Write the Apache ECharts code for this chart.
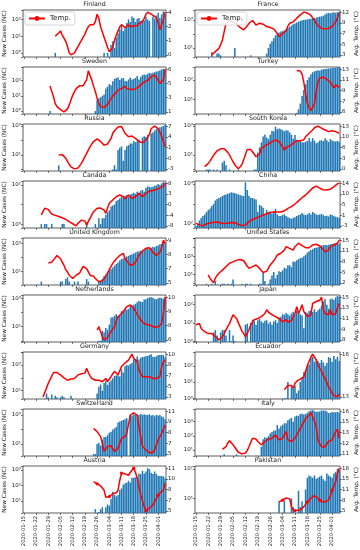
<!DOCTYPE html>
<html><head><meta charset="utf-8">
<script src="https://cdn.jsdelivr.net/npm/echarts@6/dist/echarts.min.js"></script>
<style>html,body{margin:0;padding:0;background:#fff}#c{width:360px;height:550px}</style>
</head><body><div id="c"></div>
<script>
// ---------- categories ----------
const dateTickLabels = ['2020-01-15','2020-01-22','2020-01-29','2020-02-05','2020-02-12','2020-02-19','2020-02-26','2020-03-04','2020-03-11','2020-03-18','2020-03-25','2020-04-01'];
const days = [];
for (let i = 0; i < 82; i++) { const d = new Date(Date.UTC(2020, 0, 15 + i)); days.push(d.toISOString().slice(0, 10)); }

// ---------- new cases: [dayIndex, value] ----------
const finlandCases = [[18,1],[46,1],[48,1],[50,3],[51,5],[52,2],[53,8],[54,15],[55,25],[56,40],[57,20],[58,30],[59,60],[60,100],[61,70],[62,150],[63,120],[64,70],[65,110],[66,120],[67,80],[68,90],[69,90],[70,140],[71,100],[72,80],[74,150],[75,110],[76,170],[77,250],[78,120],[79,200],[80,300],[81,200]];
const franceCases = [[9,5],[12,4],[13,4],[14,3],[22,10],[31,3],[40,4],[41,10],[42,20],[43,30],[44,50],[45,80],[46,100],[47,130],[48,150],[49,160],[50,180],[51,220],[52,280],[53,330],[54,400],[55,500],[56,550],[57,650],[58,750],[59,850],[60,950],[61,1000],[62,1050],[63,1100],[64,1150],[65,1200],[66,1300],[67,1400],[68,1450],[69,1600],[70,1700],[71,1800],[72,2000],[73,2500],[74,3000],[75,3200],[76,3000],[77,3300],[78,3500],[79,3200],[80,3600],[81,3800]];
const swedenCases = [[15,1],[41,1],[42,5],[43,7],[44,8],[45,10],[46,12],[47,30],[48,40],[49,60],[50,50],[51,90],[52,130],[53,150],[54,160],[55,110],[56,140],[57,150],[58,100],[59,90],[60,120],[61,160],[62,120],[63,130],[64,150],[65,200],[66,120],[67,180],[68,230],[69,250],[70,240],[71,280],[72,320],[73,300],[74,330],[75,360],[76,400],[77,420],[78,480],[79,550],[80,600],[81,500]];
const turkeyCases = [[57,2],[58,3],[59,6],[60,15],[61,30],[62,60],[63,100],[64,140],[65,200],[66,250],[67,280],[68,300],[69,320],[70,300],[71,340],[72,360],[73,370],[74,380],[75,390],[76,400],[77,410],[78,420],[79,440],[80,450],[81,460]];
const russiaCases = [[20,2],[51,1],[52,2],[53,1],[54,22],[55,32],[56,40],[57,4],[58,22],[59,40],[60,48],[61,62],[62,62],[63,90],[64,78],[65,90],[66,120],[68,160],[69,200],[70,175],[71,250],[73,300],[74,360],[75,490],[76,640],[77,720],[78,810],[79,900],[80,1000],[81,1200]];
const koreaCases = [[6,1],[7,1],[8,1],[10,1],[12,1],[15,3],[16,4],[17,2],[19,1],[24,1],[33,1],[34,1],[35,15],[36,34],[37,75],[38,190],[39,256],[40,161],[41,130],[42,254],[43,449],[44,427],[45,909],[46,595],[47,686],[48,600],[49,516],[50,438],[51,518],[52,483],[53,367],[54,248],[55,131],[56,242],[57,114],[58,110],[59,107],[60,76],[61,74],[62,84],[63,93],[64,152],[65,87],[66,147],[67,98],[68,64],[69,76],[70,100],[71,104],[72,91],[73,146],[74,105],[75,78],[76,125],[77,101],[78,89],[79,86],[80,94],[81,81]];
const canadaCases = [[10,1],[12,1],[13,1],[16,1],[22,1],[23,1],[36,1],[41,1],[43,2],[44,1],[45,2],[46,2],[47,3],[48,4],[49,5],[50,8],[51,9],[52,10],[53,15],[54,17],[55,20],[56,25],[57,22],[58,28],[59,30],[60,25],[61,32],[62,35],[63,40],[64,35],[65,45],[66,40],[67,50],[68,55],[69,45],[70,70],[71,85],[72,80],[73,75],[74,80],[75,90],[76,95],[77,110],[78,100],[79,120],[80,140],[81,130]];
const chinaCases = [[0,80],[1,100],[2,150],[3,200],[4,250],[5,300],[6,400],[7,500],[8,600],[9,800],[10,1000],[11,1500],[12,1800],[13,2000],[14,2200],[15,2500],[16,2800],[17,3000],[18,3200],[19,3500],[20,3800],[21,3700],[22,3500],[23,3200],[24,3000],[25,2800],[26,2600],[27,2500],[28,12000],[29,5000],[30,2600],[31,2000],[32,2000],[33,1800],[34,1700],[35,400],[36,900],[37,800],[38,650],[39,300],[40,500],[41,400],[42,430],[43,330],[44,430],[45,570],[46,300],[47,250],[48,250],[49,280],[50,300],[51,250],[52,220],[53,200],[54,180],[55,200],[56,220],[57,250],[58,280],[59,300],[60,350],[61,300],[62,280],[63,300],[64,350],[65,300],[66,400],[67,350],[68,300],[69,280],[70,300],[71,320],[72,280],[73,250],[74,260],[75,240],[76,300],[77,280],[78,250],[79,230],[80,220],[81,200]];
const ukCases = [[10,2],[21,2],[22,2],[24,3],[25,4],[26,2],[29,2],[31,2],[36,3],[37,2],[43,2],[44,2],[45,3],[46,5],[47,6],[48,10],[49,12],[50,15],[51,20],[52,26],[53,35],[54,45],[55,60],[56,77],[57,85],[58,100],[59,115],[60,130],[61,150],[62,165],[63,190],[64,225],[65,250],[66,270],[67,300],[68,280],[69,340],[70,390],[71,420],[72,380],[73,480],[74,560],[75,520],[76,650],[77,700],[78,850],[79,900],[80,1000],[81,1100]];
const usCases = [[6,1],[9,1],[11,2],[15,1],[16,1],[18,1],[20,1],[21,3],[26,1],[28,1],[29,1],[31,1],[36,1],[37,1],[38,18],[39,2],[41,1],[42,3],[43,8],[44,20],[45,4],[46,10],[47,25],[48,20],[49,31],[50,60],[51,48],[52,115],[53,110],[54,70],[55,300],[56,280],[57,400],[58,540],[59,700],[60,750],[61,1100],[62,1600],[63,2900],[64,4000],[65,5600],[66,6800],[67,9400],[68,10000],[69,11000],[70,13000],[71,18000],[72,19000],[73,20000],[74,19000],[75,21000],[76,25000],[77,26000],[78,29000],[79,32000],[80,33000],[81,28000]];
const netherlandsCases = [[43,1],[44,1],[45,5],[46,4],[47,8],[48,6],[49,14],[50,44],[51,46],[52,60],[53,77],[54,56],[55,61],[56,121],[57,111],[58,190],[59,155],[60,176],[61,278],[62,292],[63,346],[64,409],[65,534],[66,637],[67,573],[68,545],[69,811],[70,852],[71,1019],[72,1172],[73,1159],[74,1104],[75,884],[76,845],[77,1019],[78,1083],[79,1026],[80,904],[81,1224]];
const japanCases = [[0,1],[10,3],[11,4],[12,2],[14,3],[15,4],[16,4],[17,2],[19,4],[20,1],[21,2],[22,1],[28,8],[29,9],[31,10],[32,15],[33,12],[34,8],[35,14],[36,16],[37,12],[38,10],[39,13],[40,14],[41,9],[42,11],[43,8],[44,12],[45,14],[46,10],[47,20],[48,22],[49,30],[50,28],[51,35],[52,30],[53,25],[54,33],[55,40],[56,30],[57,45],[58,38],[59,30],[60,25],[61,5],[62,40],[63,35],[64,45],[65,50],[66,40],[67,55],[68,40],[69,50],[70,60],[71,90],[72,150],[73,200],[74,100],[75,60],[76,200],[77,220],[78,180],[79,250],[80,300],[81,280]];
const germanyCases = [[13,6],[14,3],[16,5],[18,4],[19,3],[21,3],[22,4],[23,3],[27,4],[42,6],[43,20],[44,30],[45,10],[46,40],[47,60],[48,28],[49,46],[50,61],[51,94],[52,138],[53,153],[54,150],[55,127],[56,447],[57,258],[58,798],[59,1000],[60,900],[61,1200],[62,1400],[63,2800],[64,3000],[65,4500],[66,2700],[67,3700],[68,4100],[69,4400],[70,4900],[71,5000],[72,6000],[73,6800],[74,4400],[75,4100],[76,4900],[77,6100],[78,6100],[79,6200],[80,5900],[81,4000]];
const ecuadorCases = [[50,1],[51,1],[52,10],[54,5],[55,4],[56,6],[57,2],[58,3],[59,10],[60,20],[61,40],[62,50],[63,90],[64,120],[65,300],[66,350],[67,180],[68,250],[69,200],[70,150],[71,230],[72,160],[73,100],[74,150],[75,350],[76,300],[77,180],[78,400],[79,250],[80,350],[81,200]];
const switzerlandCases = [[40,2],[41,2],[42,10],[43,12],[44,8],[45,20],[46,30],[47,30],[48,40],[49,60],[50,70],[51,100],[52,120],[53,150],[54,300],[55,350],[56,400],[57,450],[58,500],[59,600],[61,1000],[62,900],[63,1100],[64,1000],[65,1100],[66,1000],[67,1200],[68,1000],[69,1100],[70,1000],[71,1000],[72,1100],[73,900],[74,1000],[75,800],[76,1000],[77,900],[78,1000],[79,800],[80,700],[81,500]];
const italyCases = [[16,5],[23,5],[37,17],[38,58],[39,78],[40,72],[41,94],[42,147],[43,185],[44,234],[45,239],[46,573],[47,335],[48,466],[49,587],[50,769],[51,778],[52,1247],[53,1492],[54,1797],[55,977],[56,2313],[57,2651],[58,2547],[59,3497],[60,3590],[61,3233],[62,3526],[63,4207],[64,5322],[65,5986],[66,6557],[67,5560],[68,4789],[69,5249],[70,5210],[71,6203],[72,5909],[73,5974],[74,5217],[75,4050],[76,4053],[77,4782],[78,4668],[79,4585],[80,4805],[81,4316]];
const austriaCases = [[41,3],[43,2],[44,3],[45,4],[47,4],[48,6],[49,5],[50,14],[51,40],[52,25],[53,20],[54,25],[55,51],[56,64],[57,115],[58,143],[59,151],[60,205],[61,158],[62,314],[63,314],[64,342],[65,375],[66,600],[67,538],[68,892],[69,605],[70,809],[71,1321],[72,1141],[73,668],[74,564],[75,805],[76,564],[77,418],[78,413],[79,407],[80,400],[81,300]];
const pakistanCases = [[47,8],[50,8],[54,10],[55,5],[58,18],[59,5],[60,8],[62,20],[63,50],[64,60],[65,55],[66,50],[67,60],[68,45],[69,50],[70,55],[71,60],[72,45],[73,40],[74,70],[75,60],[76,55],[77,50],[78,70],[79,80],[80,100],[81,90]];

// ---------- average temperature (first day index, then daily values) ----------
const finlandTempStart = 18;
const finlandTemp = [1.9,1.95,2.2,2.4,2.0,1.7,1.4,0.9,0.3,0.1,0.2,0.3,0.4,0.9,1.2,1.5,1.8,2.1,2.5,2.8,3.0,3.1,3.0,3.3,4.0,3.6,2.8,2.3,1.8,1.3,0.8,0.4,0.3,0.8,1.5,2.0,2.4,2.8,3.0,2.9,2.7,2.8,3.0,2.8,2.7,2.9,3.0,2.9,3.1,3.2,3.3,3.6,4.0,4.2,4.1,4.0,3.9,3.8,3.6,3.2,2.5,2.6,3.5,4.2];
const franceTempStart = 9;
const franceTemp = [3.0,3.3,3.7,4.0,4.4,5.2,6.2,8.0,9.8,10.2,10.5,10.3,10.1,9.8,9.6,9.3,8.9,8.5,8.4,8.7,9.2,9.8,10.2,10.4,9.9,9.4,9.6,9.8,9.8,9.6,9.3,9.1,9.0,8.9,8.7,8.6,8.4,7.6,6.9,7.2,7.6,7.9,8.2,9.2,9.8,10.0,10.1,10.5,10.9,11.2,11.6,12.0,12.2,12.1,12.0,11.9,11.5,11.2,10.4,9.8,9.3,9.0,8.7,8.6,8.6,8.7,8.7,8.9,9.1,9.6,10.1,11.0,12.0];
const swedenTempStart = 15;
const swedenTemp = [4.65,4.8,3.2,2.3,1.9,1.7,1.5,1.3,1.2,1.3,1.6,2.1,2.8,3.4,3.9,4.3,4.5,4.7,4.8,4.7,4.5,5.5,6.7,6.0,5.4,4.6,3.9,3.0,2.3,1.9,1.7,1.8,1.9,2.2,2.6,3.0,3.3,3.5,3.8,4.1,4.2,4.3,4.5,4.6,4.3,4.1,4.2,4.3,4.2,4.1,4.4,4.6,4.8,5.0,5.2,5.3,5.4,5.6,5.9,6.0,6.1,5.8,5.4,5.0,5.0,5.5,6.9];
const turkeyTempStart = 57;
const turkeyTemp = [12.8,13.0,12.7,12.2,10.9,9.0,7.6,6.8,6.4,6.2,7.5,9.5,11.0,11.6,11.8,11.7,11.5,11.4,11.2,10.9,10.6,10.0,10.5,10.2,10.1];
const russiaTempStart = 20;
const russiaTemp = [0.0,0.2,0.1,-0.2,-0.8,-1.6,-2.4,-3.0,-3.3,-3.5,-3.5,-3.3,-3.0,-2.1,-1.3,-0.4,0.4,1.3,2.1,2.8,3.4,3.8,4.1,3.9,3.4,2.9,2.5,2.6,2.8,2.9,4.2,5.5,6.2,6.7,7.1,7.3,7.2,7.0,5.5,5.0,4.6,4.7,4.8,4.5,4.2,3.7,3.4,3.0,3.1,3.4,3.8,4.2,5.2,6.7,7.0,7.3,7.1,6.7,5.8,4.7,3.4,2.1];
const koreaTempStart = 5;
const koreaTemp = [0.9,1.4,1.9,2.6,3.5,4.4,5.1,5.8,6.2,6.4,6.6,6.4,6.0,5.3,4.5,3.4,2.4,1.5,0.9,0.2,0.6,1.5,3.0,4.6,6.2,6.8,6.2,5.5,4.7,3.95,3.5,4.8,6.5,7.0,7.3,7.6,7.9,8.3,8.6,8.9,9.1,8.9,8.6,7.8,7.0,6.0,6.8,7.1,7.3,7.6,8.1,8.6,8.9,9.1,8.9,8.6,9.2,10.1,10.6,11.2,11.7,12.2,12.9,13.2,13.4,13.2,12.8,12.5,12.2,11.9,11.7,11.9,12.0,11.8,11.7,11.3,11.2];
const canadaTempStart = 10;
const canadaTemp = [-4.1,-2.8,-1.6,-1.2,-2.0,-3.0,-3.8,-4.1,-4.3,-4.5,-4.7,-5.0,-5.2,-5.4,-5.8,-6.1,-6.7,-7.3,-7.5,-7.8,-8.3,-7.3,-6.7,-6.1,-6.3,-6.5,-8.0,-6.5,-5.4,-4.0,-2.9,-2.2,-1.6,-2.0,-1.5,-1.0,-2.3,-3.5,-1.5,0.3,1.0,1.6,2.3,2.8,3.2,3.5,3.2,2.8,2.0,1.6,3.5,2.8,2.2,2.5,2.8,3.5,4.1,3.4,2.8,3.5,4.1,4.7,5.0,5.4,5.2,5.1,5.6,6.0,6.2,6.4,6.9,8.0];
const chinaTempStart = 0;
const chinaTemp = [-2.0,-2.4,-2.7,-3.0,-3.1,-2.7,-2.3,-2.0,-1.9,-1.8,-1.6,-1.4,-1.5,-1.8,-1.9,-2.0,-2.1,-2.3,-2.0,-1.8,-1.7,-1.6,-1.8,-2.0,-2.5,-2.8,-3.0,-2.9,-2.7,-2.0,-1.4,-0.9,-0.4,-0.2,0.0,0.4,0.7,1.1,1.4,1.7,1.9,2.1,2.3,2.5,2.6,2.7,2.6,2.5,2.6,2.7,3.1,3.4,4.1,4.5,4.8,5.4,5.9,6.4,7.2,7.8,8.5,9.2,9.6,10.3,11.0,11.7,12.5,13.0,13.3,12.8,12.4,12.0,11.8,11.7,11.7,11.7,12.0,12.4,13.0,13.7,14.2,14.5];
const ukTempStart = 14;
const ukTemp = [7.6,7.65,7.7,7.9,8.1,8.3,8.2,8.0,7.7,7.4,7.0,6.8,6.5,6.35,6.2,6.3,6.5,6.6,6.7,7.0,7.3,7.4,7.1,6.8,6.5,6.45,6.4,6.2,6.05,5.9,5.8,6.0,6.2,6.4,6.7,7.0,7.3,7.6,7.8,8.0,8.15,8.3,8.4,8.5,8.0,7.9,7.6,7.4,7.3,7.5,7.7,8.0,8.3,8.5,8.7,8.8,8.95,9.1,9.0,8.8,8.6,8.5,8.3,8.2,8.6,9.0,9.7,9.4];
const usTempStart = 7;
const usTemp = [4.9,4.0,3.2,2.6,4.0,4.8,5.4,5.9,6.3,6.8,7.3,7.8,8.3,8.5,8.7,9.0,9.2,9.3,9.4,9.2,9.0,8.3,7.5,6.8,7.0,7.3,7.5,7.8,7.3,6.8,6.2,5.6,5.4,6.0,6.8,7.8,8.3,9.0,9.8,10.7,11.0,11.2,11.6,12.1,13.1,12.8,12.6,12.3,12.1,13.1,13.6,14.1,13.6,13.4,13.1,12.8,12.6,12.8,13.1,13.6,14.1,13.8,13.6,13.3,13.1,12.3,11.6,11.9,12.1,13.1,13.4,13.6,13.9,14.1,15.0];
const netherlandsTempStart = 42;
const netherlandsTemp = [7.7,8.0,7.55,7.1,6.8,6.8,7.0,7.3,7.55,7.8,8.0,8.6,8.9,9.07,9.2,9.37,9.6,9.83,9.95,9.98,9.9,9.7,9.4,9.1,8.9,8.6,8.46,8.3,8.16,8.18,8.2,8.1,8.0,7.95,7.9,8.0,8.1,8.3,9.2,10.7];
const japanTempStart = 0;
const japanTemp = [10.6,10.7,10.8,10.0,9.7,9.5,9.3,9.2,9.2,9.2,8.9,8.7,8.9,8.2,8.4,8.7,9.2,9.8,10.3,10.8,11.5,12.2,12.4,11.6,10.9,10.3,9.6,9.2,8.7,8.9,9.8,10.6,11.0,11.4,11.5,11.6,11.8,11.9,12.2,12.4,13.0,12.6,12.4,12.2,12.0,11.9,11.7,11.6,11.3,11.1,11.3,11.4,11.0,10.8,11.3,11.6,12.4,13.5,12.4,13.0,13.8,12.7,12.3,11.9,12.0,12.2,14.0,14.2,14.3,14.3,14.5,15.0,13.0,12.4,12.3,12.2,13.0,12.2,12.3,12.4,13.3,14.0];
const germanyTempStart = 11;
const germanyTemp = [3.5,3.8,5.0,5.8,6.4,7.0,7.6,7.9,7.6,7.4,7.2,7.0,6.7,6.5,6.3,6.4,6.5,6.6,6.6,6.9,7.2,7.3,7.4,7.4,7.5,8.3,7.6,7.0,6.6,6.4,6.3,6.3,6.3,6.2,6.06,6.3,6.6,6.06,6.5,6.9,7.4,7.8,7.5,7.2,7.9,8.6,8.9,9.2,9.5,9.7,10.2,10.7,10.0,9.8,9.4,8.0,7.4,6.9,6.9,6.9,6.9,6.9,6.8,6.6,6.6,6.6,6.8,6.9,8.6,9.4,9.7];
const ecuadorTempStart = 50;
const ecuadorTemp = [13.6,13.7,13.9,14.0,13.9,13.7,14.05,14.2,14.3,14.35,14.4,14.5,14.9,15.3,15.6,15.9,16.1,15.9,15.7,15.3,15.1,14.9,14.6,14.4,14.1,13.8,13.6,13.35,13.2,13.1,13.1,13.3];
const switzerlandTempStart = 40;
const switzerlandTemp = [9.0,8.8,8.6,8.5,8.0,7.2,6.2,6.5,6.8,7.0,6.9,6.5,6.2,6.0,6.6,7.2,7.8,7.9,8.0,8.4,9.5,10.6,10.8,10.9,11.1,10.6,9.2,8.0,6.8,6.6,6.4,6.2,6.0,5.9,6.1,6.4,7.0,7.6,8.0,8.4,8.9,9.4];
const italyTempStart = 15;
const italyTemp = [11.75,11.9,12.07,12.5,12.8,12.9,12.3,12.0,11.7,11.4,11.3,11.2,11.2,11.3,11.6,12.07,12.6,13.1,13.2,13.0,12.7,12.5,12.3,12.5,12.7,12.9,13.0,13.1,13.1,13.2,13.5,13.7,12.9,13.0,13.1,13.5,13.9,12.9,12.8,12.7,12.9,13.1,13.5,13.9,14.3,14.7,15.1,15.5,15.7,15.9,16.2,16.4,15.2,14.5,12.9,12.4,12.07,12.07,12.07,12.4,12.7,12.8,12.9,13.4,13.9,14.2,13.1];
const austriaTempStart = 40;
const austriaTemp = [9.7,9.5,9.4,9.2,9.1,8.8,8.5,7.5,7.4,7.6,7.8,8.0,8.15,8.15,8.5,9.9,10.9,10.85,10.8,10.7,10.6,11.0,11.3,11.6,11.0,10.2,9.0,7.9,7.0,6.2,5.6,5.8,6.0,6.2,6.4,6.9,7.4,7.8,8.1,8.3,8.5,9.5];
const pakistanTempStart = 47;
const pakistanTemp = [8.1,8.3,8.6,9.2,9.3,9.4,9.0,6.6,5.6,5.3,5.5,5.6,5.6,6.1,6.6,7.3,8.1,8.6,9.2,9.6,10.0,10.1,9.2,8.6,8.1,8.1,8.1,8.3,8.6,10.0,11.7,13.0,14.3,16.9,18.5];

// ---------- temperature tick labels ----------
const finlandTicks = ['0','1','2','4'];
const franceTicks = ['3','5','7','9','12'];
const swedenTicks = ['1','3','5','6'];
const turkeyTicks = ['6','7','9','11','13'];
const russiaTicks = ['-3','0','1','4','7'];
const koreaTicks = ['0','3','6','10','13'];
const canadaTicks = ['-8','-4','0','3','8'];
const chinaTicks = ['-3','1','5','10','14'];
const ukTicks = ['5','7','8','9'];
const usTicks = ['2','5','8','11','15'];
const netherlandsTicks = ['6','8','9','10'];
const japanTicks = ['8','9','11','13','15'];
const germanyTicks = ['3','5','7','8','10'];
const ecuadorTicks = ['13','16'];
const switzerlandTicks = ['5','7','8','9','11'];
const italyTicks = ['11','12','13','15','16'];
const austriaTicks = ['5','7','8','10','11'];
const pakistanTicks = ['5','8','11','15','18'];

// ---------- panels ----------
const panels = [
 {t:'Finland', cases:finlandCases, temp:finlandTemp, ts:finlandTempStart, ticks:finlandTicks, lg:[-0.24,2.56], ll:[0,1,2]},
 {t:'France', cases:franceCases, temp:franceTemp, ts:franceTempStart, ticks:franceTicks, lg:[0.36,3.71], ll:[1,3]},
 {t:'Sweden', cases:swedenCases, temp:swedenTemp, ts:swedenTempStart, ticks:swedenTicks, lg:[-0.2,2.9], ll:[0,1,2]},
 {t:'Turkey', cases:turkeyCases, temp:turkeyTemp, ts:turkeyTempStart, ticks:turkeyTicks, lg:[0.24,2.67], ll:[1,2]},
 {t:'Russia', cases:russiaCases, temp:russiaTemp, ts:russiaTempStart, ticks:russiaTicks, lg:[-0.1,3.14], ll:[1,3]},
 {t:'South Korea', cases:koreaCases, temp:koreaTemp, ts:koreaTempStart, ticks:koreaTicks, lg:[-0.1,3.14], ll:[1,3]},
 {t:'Canada', cases:canadaCases, temp:canadaTemp, ts:canadaTempStart, ticks:canadaTicks, lg:[-0.2,2.2], ll:[0,2]},
 {t:'China', cases:chinaCases, temp:chinaTemp, ts:chinaTempStart, ticks:chinaTicks, lg:[1.8,4.15], ll:[2,4]},
 {t:'United Kingdom', cases:ukCases, temp:ukTemp, ts:ukTempStart, ticks:ukTicks, lg:[0.06,3.37], ll:[1,3]},
 {t:'United States', cases:usCases, temp:usTemp, ts:usTempStart, ticks:usTicks, lg:[-0.14,5.08], ll:[1,3]},
 {t:'Netherlands', cases:netherlandsCases, temp:netherlandsTemp, ts:netherlandsTempStart, ticks:netherlandsTicks, lg:[-0.08,3.23], ll:[1,3]},
 {t:'Japan', cases:japanCases, temp:japanTemp, ts:japanTempStart, ticks:japanTicks, lg:[-0.05,2.53], ll:[0,1,2]},
 {t:'Germany', cases:germanyCases, temp:germanyTemp, ts:germanyTempStart, ticks:germanyTicks, lg:[0.35,4.01], ll:[1,3]},
 {t:'Ecuador', cases:ecuadorCases, temp:ecuadorTemp, ts:ecuadorTempStart, ticks:ecuadorTicks, lg:[-0.05,2.85], ll:[0,1,2]},
 {t:'Switzerland', cases:switzerlandCases, temp:switzerlandTemp, ts:switzerlandTempStart, ticks:switzerlandTicks, lg:[0.17,3.41], ll:[1,3]},
 {t:'Italy', cases:italyCases, temp:italyTemp, ts:italyTempStart, ticks:italyTicks, lg:[0.58,3.89], ll:[1,2,3]},
 {t:'Austria', cases:austriaCases, temp:austriaTemp, ts:austriaTempStart, ticks:austriaTicks, lg:[0.23,3.26], ll:[1,2,3]},
 {t:'Pakistan', cases:pakistanCases, temp:pakistanTemp, ts:pakistanTempStart, ticks:pakistanTicks, lg:[0.5,2.1], ll:[1,2]}
];

const FONT = 'DejaVu Sans';
const SUP = {'-1':'⁻¹','0':'⁰','1':'¹','2':'²','3':'³','4':'⁴','5':'⁵'};
const colX = [{left:23, width:143}, {left:195, width:146}];
const rowTop = k => 10 + 57 * k;
const H = 47;
const TICK_FS = 5.5, NAME_FS = 5.8, TITLE_FS = 6.3;

const grids = [], xAxes = [], yAxes = [], series = [], titles = [];

panels.forEach((p, g) => {
  const col = g % 2, row = Math.floor(g / 2);
  const top = rowTop(row);
  grids.push({left: colX[col].left, width: colX[col].width, top: top, height: H, show: true, borderColor: '#333', borderWidth: 0.8, backgroundColor: 'transparent'});
  titles.push({text: p.t, left: colX[col].left + colX[col].width / 2, top: top - 9, textAlign: 'center', padding: 0,
    textStyle: {fontSize: TITLE_FS, fontWeight: 'normal', color: '#222', fontFamily: FONT}});
  xAxes.push({type: 'category', gridIndex: g, data: days, boundaryGap: true,
    axisLine: {show: false, onZero: false},
    axisTick: {show: true, alignWithLabel: true, interval: i => i % 7 === 0, length: 2, lineStyle: {color: '#222', width: 0.6}},
    axisLabel: {show: row === 8, interval: i => i % 7 === 0, rotate: 90, fontSize: 5.2, margin: 3, color: '#222', fontFamily: FONT,
      formatter: v => dateTickLabels.indexOf(v) >= 0 ? v : ''},
    splitLine: {show: false}});
  const lmin = Math.pow(10, p.lg[0]), lmax = Math.pow(10, p.lg[1]);
  yAxes.push({type: 'log', logBase: 10, gridIndex: g, position: 'left', min: lmin, max: lmax,
    axisLine: {show: false, onZero: false}, splitLine: {show: false},
    axisTick: {show: true, length: 2, lineStyle: {color: '#222', width: 0.6}},
    axisLabel: {fontSize: TICK_FS, color: '#222', margin: 2, fontFamily: FONT, showMinLabel: true, showMaxLabel: true,
      formatter: v => { const l = Math.log10(v); const e = Math.round(l); return (Math.abs(l - e) < 1e-6 && p.ll.indexOf(e) >= 0) ? '10' + SUP[String(e)] : ''; }},
    name: col === 0 ? 'New Cases (NC)' : '', nameLocation: 'middle', nameGap: 12,
    nameTextStyle: {fontSize: NAME_FS, color: '#222', fontFamily: FONT}});
  const tmin = Math.min.apply(null, p.temp), tmax = Math.max.apply(null, p.temp);
  const r = tmax - tmin, n = p.ticks.length;
  const tickVals = p.ticks.map((_, i) => tmin + r * i / (n - 1));
  yAxes.push({type: 'value', gridIndex: g, position: 'right', min: tmin - 0.05 * r, max: tmax + 0.05 * r,
    axisLine: {show: false, onZero: false}, splitLine: {show: false},
    axisTick: {show: true, length: 2, customValues: tickVals, lineStyle: {color: '#222', width: 0.6}},
    axisLabel: {customValues: tickVals, fontSize: TICK_FS, color: '#222', margin: 2, fontFamily: FONT,
      formatter: v => { let bi = 0, bd = Infinity; tickVals.forEach((tv, i) => { const d = Math.abs(tv - v); if (d < bd) { bd = d; bi = i; } }); return p.ticks[bi]; }},
    name: col === 1 ? 'Avg. Temp. (°C)' : '', nameLocation: 'middle', nameGap: 11, nameRotate: 90,
    nameTextStyle: {fontSize: NAME_FS, color: '#222', fontFamily: FONT}});
  series.push({type: 'custom', xAxisIndex: g, yAxisIndex: 2 * g, data: p.cases, encode: {x: 0, y: 1}, silent: true, animation: false, clip: true,
    renderItem: (params, api) => {
      const x = api.value(0), v = api.value(1);
      if (!(v > 0)) return;
      const tp = api.coord([x, v]);
      const bp = api.coord([x, lmin]);
      const w = api.size([1, 0])[0] * 0.85;
      return {type: 'rect', shape: {x: tp[0] - w / 2, y: tp[1], width: w, height: bp[1] - tp[1]}, style: {fill: '#1f77b4'}};
    }});
  series.push({type: 'line', name: 'Temp.', xAxisIndex: g, yAxisIndex: 2 * g + 1, z: 3,
    data: p.temp.map((v, i) => [p.ts + i, v]),
    symbol: 'circle', symbolSize: 3.2, showSymbol: true, animation: false,
    lineStyle: {color: '#ff0000', width: 1.5}, itemStyle: {color: '#ff0000'}});
});

const legendCommon = {data: ['Temp.'], orient: 'vertical', itemWidth: 16, itemHeight: 6, itemGap: 2,
  borderColor: '#cccccc', borderWidth: 0.8, borderRadius: 2, padding: [3, 4, 3, 3], backgroundColor: 'rgba(255,255,255,0.85)',
  textStyle: {fontSize: 7, color: '#222', fontFamily: FONT}, selectedMode: false};

const chart = echarts.init(document.getElementById('c'), null, {renderer: 'canvas'});
chart.setOption({
  animation: false,
  backgroundColor: '#fff',
  textStyle: {fontFamily: FONT},
  title: titles,
  legend: [Object.assign({left: 25, top: 12}, legendCommon), Object.assign({left: 197, top: 12}, legendCommon)],
  grid: grids, xAxis: xAxes, yAxis: yAxes, series: series
});
</script></body></html>
